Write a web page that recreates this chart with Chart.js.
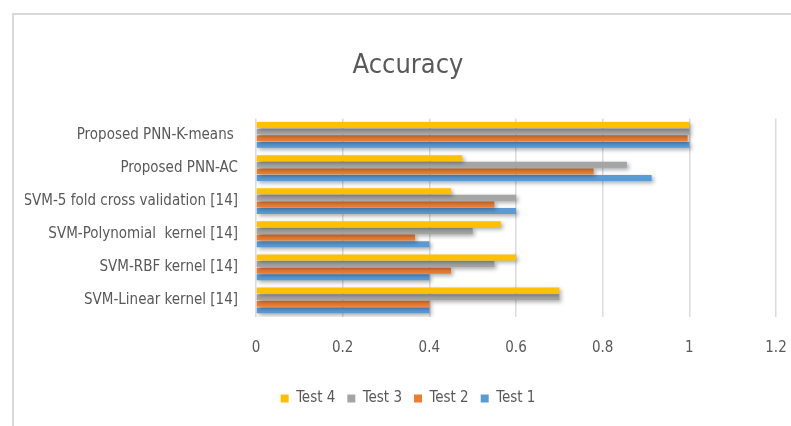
<!DOCTYPE html>
<html>
<head>
<meta charset="utf-8">
<script src="https://cdn.jsdelivr.net/npm/chart.js@4"></script>
<style>
  body { margin: 0; background: #fff; }
  #frame {
      position: absolute; left: 12px; top: 13px; width: 800px; height: 420px;
      border-left: 2px solid #d9d9d9; border-top: 2px solid #d9d9d9;
  }
  #wrap { position: absolute; left: 0; top: 0; width: 791px; height: 426px; }
</style>
</head>
<body>
<div id="frame"></div>
<div id="wrap"><canvas id="accuracyChart" width="791" height="426"></canvas></div>
<script>
// categories, top to bottom
const methods = [
    'Proposed PNN-K-means ',
    'Proposed PNN-AC',
    'SVM-5 fold cross validation [14]',
    'SVM-Polynomial  kernel [14]',
    'SVM-RBF kernel [14]',
    'SVM-Linear kernel [14]'
];

// series values, same order as methods
const test4 = [1.0, 0.476, 0.45, 0.565, 0.6, 0.7];
const test3 = [1.0, 0.856, 0.6, 0.5, 0.55, 0.7];
const test2 = [0.996, 0.779, 0.55, 0.367, 0.45, 0.4];
const test1 = [1.0, 0.913, 0.6, 0.4, 0.4, 0.4];

const xTicks = [0, 0.2, 0.4, 0.6, 0.8, 1, 1.2];

const FONT = '"Liberation Sans Narrow", "DejaVu Sans Condensed", sans-serif';
const TEXT = '#595959';

// soft drop shadow under the bars, like the Excel original
const barShadow = {
    id: 'barShadow',
    beforeDatasetsDraw(chart) {
        const ctx = chart.ctx;
        ctx.save();
        ctx.shadowColor = 'rgba(0, 0, 0, 0.35)';
        ctx.shadowBlur = 4;
        ctx.shadowOffsetX = 2;
        ctx.shadowOffsetY = 2;
    },
    afterDatasetsDraw(chart) {
        chart.ctx.restore();
    }
};

new Chart(document.getElementById('accuracyChart'), {
    type: 'bar',
    data: {
        labels: methods,
        datasets: [
            { label: 'Test 4', data: test4, backgroundColor: '#FFC000' },
            { label: 'Test 3', data: test3, backgroundColor: '#A5A5A5' },
            { label: 'Test 2', data: test2, backgroundColor: '#ED7D31' },
            { label: 'Test 1', data: test1, backgroundColor: '#5B9BD5' }
        ]
    },
    options: {
        indexAxis: 'y',
        responsive: false,
        animation: false,
        categoryPercentage: 0.8,
        barPercentage: 0.9,
        layout: { padding: { left: 25, right: 0, top: 0, bottom: 10 } },
        plugins: {
            title: {
                display: true,
                text: 'Accuracy',
                color: TEXT,
                font: { family: FONT, size: 27, weight: 'normal' },
                padding: { top: 50, bottom: 36 }
            },
            legend: {
                position: 'bottom',
                labels: {
                    color: TEXT,
                    font: { family: FONT, size: 15 },
                    boxWidth: 8,
                    boxHeight: 8,
                    padding: 12
                }
            },
            tooltip: { enabled: false }
        },
        scales: {
            x: {
                min: 0,
                max: 1.2,
                afterBuildTicks(scale) {
                    scale.ticks = xTicks.map(v => ({ value: v }));
                },
                afterFit(scale) {
                    scale.paddingRight = 15;
                },
                ticks: {
                    color: TEXT,
                    font: { family: FONT, size: 15 },
                    padding: 22,
                    callback: v => String(v)
                },
                grid: { color: '#dcdcdc', lineWidth: 1.5, drawTicks: false },
                border: { display: false }
            },
            y: {
                afterFit(scale) { scale.width = 231; },
                ticks: {
                    color: TEXT,
                    font: { family: FONT, size: 15 },
                    padding: 18
                },
                grid: { display: false, drawTicks: false },
                border: { display: false }
            }
        }
    },
    plugins: [barShadow]
});
</script>
</body>
</html>
